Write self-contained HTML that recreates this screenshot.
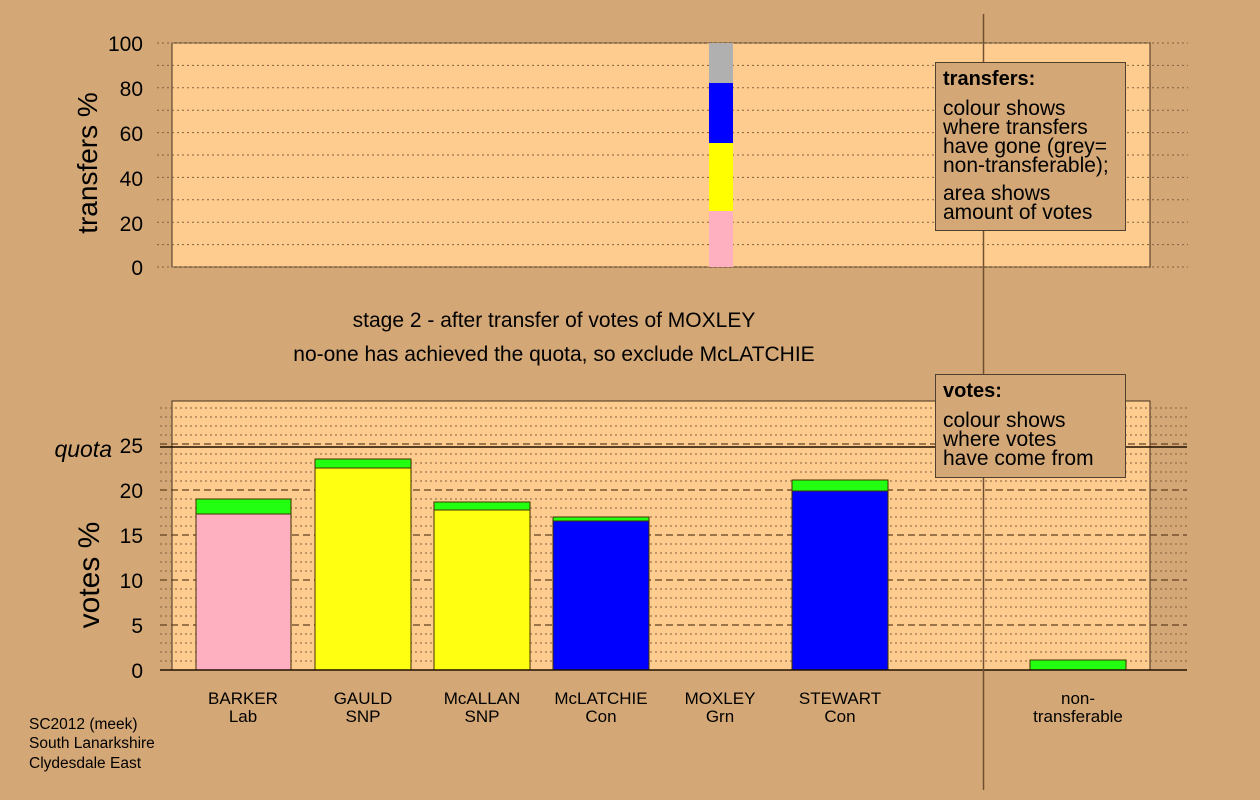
<!DOCTYPE html>
<html><head><meta charset="utf-8"><style>
html,body{margin:0;padding:0;background:#d4a876;}
svg{display:block;font-family:"Liberation Sans",sans-serif;}
</style></head><body>
<svg width="1260" height="800" viewBox="0 0 1260 800" xmlns="http://www.w3.org/2000/svg">
<rect width="1260" height="800" fill="#d4a876"/>
<rect x="172" y="43" width="978" height="224" fill="#ffcc8f" stroke="#403020" stroke-width="1"/>
<g stroke="#806040" stroke-width="1" stroke-dasharray="2,3">
<line x1="157" x2="1188" y1="43" y2="43"/><line x1="157" x2="1188" y1="65.4" y2="65.4"/>
<line x1="157" x2="1188" y1="87.8" y2="87.8"/><line x1="157" x2="1188" y1="110.2" y2="110.2"/>
<line x1="157" x2="1188" y1="132.6" y2="132.6"/><line x1="157" x2="1188" y1="155" y2="155"/>
<line x1="157" x2="1188" y1="177.4" y2="177.4"/><line x1="157" x2="1188" y1="199.8" y2="199.8"/>
<line x1="157" x2="1188" y1="222.2" y2="222.2"/><line x1="157" x2="1188" y1="244.6" y2="244.6"/>
<line x1="157" x2="1188" y1="267" y2="267"/>
</g>
<rect x="709" y="43" width="24" height="40" fill="#b0b0b0"/>
<rect x="709" y="83" width="24" height="60" fill="#0000ff"/>
<rect x="709" y="143" width="24" height="68" fill="#ffff00"/>
<rect x="709" y="211" width="24" height="56" fill="#ffb0c0"/>
<g font-size="21" text-anchor="end" fill="#000">
<text x="143" y="51">100</text><text x="143" y="96">80</text><text x="143" y="141">60</text>
<text x="143" y="186">40</text><text x="143" y="231">20</text><text x="143" y="275">0</text>
</g>
<text transform="translate(97,163) rotate(-90)" font-size="28" text-anchor="middle">transfers %</text>
<text x="554" y="327" font-size="21" text-anchor="middle">stage 2 - after transfer of votes of MOXLEY</text>
<text x="554" y="361" font-size="21" text-anchor="middle">no-one has achieved the quota, so exclude McLATCHIE</text>
<rect x="172" y="401" width="978" height="269" fill="#ffcc8f" stroke="#403020" stroke-width="1"/>
<g stroke="#806040" stroke-width="1" stroke-dasharray="2,3">
<line x1="160" x2="1187" y1="661" y2="661"/><line x1="160" x2="1187" y1="652" y2="652"/><line x1="160" x2="1187" y1="643" y2="643"/><line x1="160" x2="1187" y1="634" y2="634"/>
<line x1="160" x2="1187" y1="616" y2="616"/><line x1="160" x2="1187" y1="607" y2="607"/><line x1="160" x2="1187" y1="598" y2="598"/><line x1="160" x2="1187" y1="589" y2="589"/>
<line x1="160" x2="1187" y1="571" y2="571"/><line x1="160" x2="1187" y1="562" y2="562"/><line x1="160" x2="1187" y1="553" y2="553"/><line x1="160" x2="1187" y1="544" y2="544"/>
<line x1="160" x2="1187" y1="526" y2="526"/><line x1="160" x2="1187" y1="517" y2="517"/><line x1="160" x2="1187" y1="508" y2="508"/><line x1="160" x2="1187" y1="499" y2="499"/>
<line x1="160" x2="1187" y1="481" y2="481"/><line x1="160" x2="1187" y1="472" y2="472"/><line x1="160" x2="1187" y1="463" y2="463"/><line x1="160" x2="1187" y1="454" y2="454"/>
<line x1="160" x2="1187" y1="435" y2="435"/><line x1="160" x2="1187" y1="426" y2="426"/><line x1="160" x2="1187" y1="417" y2="417"/><line x1="160" x2="1187" y1="408" y2="408"/>
</g>
<g stroke="#604020" stroke-width="1.2" stroke-dasharray="7,4">
<line x1="160" x2="1187" y1="625" y2="625"/><line x1="160" x2="1187" y1="580" y2="580"/>
<line x1="160" x2="1187" y1="535" y2="535"/><line x1="160" x2="1187" y1="490" y2="490"/>
<line x1="160" x2="1187" y1="444" y2="444"/>
</g>
<line x1="160" x2="1187" y1="447" y2="447" stroke="#201000" stroke-width="1.5"/>
<g stroke="#403000" stroke-width="1">
<rect x="196" y="514" width="95" height="156" fill="#ffb0c0"/><rect x="196" y="499" width="95" height="15" fill="#22ff11"/>
<rect x="315" y="468" width="96" height="202" fill="#ffff11"/><rect x="315" y="459" width="96" height="9" fill="#22ff11"/>
<rect x="434" y="510" width="96" height="160" fill="#ffff11"/><rect x="434" y="502" width="96" height="8" fill="#22ff11"/>
<rect x="553" y="521" width="96" height="149" fill="#0000ff"/><rect x="553" y="517" width="96" height="4" fill="#22ff11"/>
<rect x="792" y="491" width="96" height="179" fill="#0000ff"/><rect x="792" y="480" width="96" height="11" fill="#22ff11"/>
<rect x="1030" y="660" width="96" height="10" fill="#22ff11"/>
</g>
<line x1="160" x2="1187" y1="670" y2="670" stroke="#201000" stroke-width="1.5"/>
<g font-size="21" text-anchor="end">
<text x="143" y="678">0</text><text x="143" y="633">5</text><text x="143" y="588">10</text>
<text x="143" y="543">15</text><text x="143" y="498">20</text><text x="143" y="453">25</text>
</g>
<text x="112" y="457" font-size="23" font-style="italic" text-anchor="end">quota</text>
<text transform="translate(99,575) rotate(-90)" font-size="30" text-anchor="middle">votes %</text>
<g font-size="17" text-anchor="middle">
<text x="243" y="704">BARKER</text><text x="243" y="722">Lab</text>
<text x="363" y="704">GAULD</text><text x="363" y="722">SNP</text>
<text x="482" y="704">McALLAN</text><text x="482" y="722">SNP</text>
<text x="601" y="704">McLATCHIE</text><text x="601" y="722">Con</text>
<text x="720" y="704">MOXLEY</text><text x="720" y="722">Grn</text>
<text x="840" y="704">STEWART</text><text x="840" y="722">Con</text>
<text x="1078" y="704">non-</text><text x="1078" y="722">transferable</text>
</g>
<g font-size="15.5">
<text x="29" y="729">SC2012 (meek)</text><text x="29" y="748">South Lanarkshire</text><text x="29" y="768">Clydesdale East</text>
</g>
<line x1="983.5" x2="983.5" y1="14" y2="790" stroke="#705030" stroke-width="1.5"/>
<rect x="935.5" y="62.5" width="190" height="168" fill="#d4a876" stroke="#504030"/>
<g font-size="21">
<text x="943" y="85" font-weight="bold" font-size="20">transfers:</text>
<text x="943" y="115">colour shows</text><text x="943" y="134">where transfers</text>
<text x="943" y="153">have gone (grey=</text><text x="943" y="172">non-transferable);</text>
<text x="943" y="200">area shows</text><text x="943" y="219">amount of votes</text>
</g>
<rect x="935.5" y="374.5" width="190" height="103" fill="#d4a876" stroke="#504030"/>
<g font-size="21">
<text x="943" y="397" font-weight="bold" font-size="20">votes:</text>
<text x="943" y="427">colour shows</text><text x="943" y="446">where votes</text><text x="943" y="465">have come from</text>
</g>
</svg>
</body></html>
